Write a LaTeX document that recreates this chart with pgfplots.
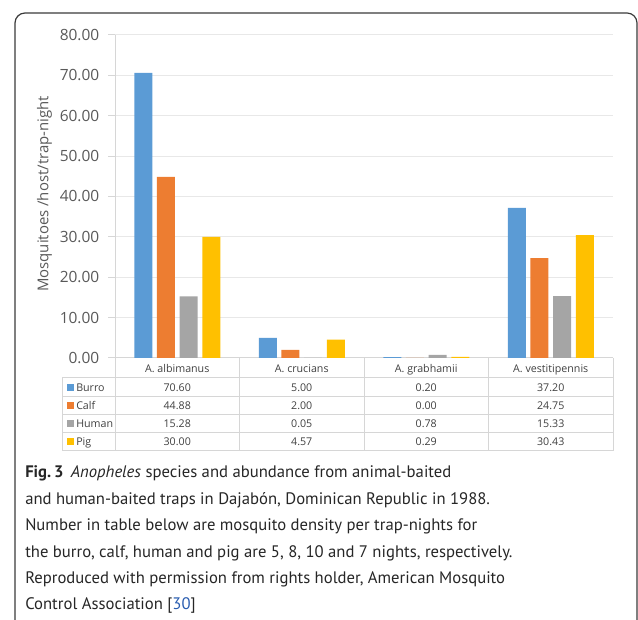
\documentclass[border=0pt]{standalone}
\usepackage{fontspec}
\setmainfont{Open Sans}
\newfontfamily\capfont{PT Sans}
\usepackage{pgfplots}
\pgfplotsset{compat=1.18}
\definecolor{cBurro}{HTML}{5B9BD5}
\definecolor{cCalf}{HTML}{ED7D31}
\definecolor{cHuman}{HTML}{A5A5A5}
\definecolor{cPig}{HTML}{FFC000}
\definecolor{textgray}{HTML}{595959}
\definecolor{tabtext}{HTML}{404040}
\definecolor{gridgray}{HTML}{E8E8E8}
\definecolor{linegray}{HTML}{D6D6D6}
\definecolor{framecol}{HTML}{3A3A3A}
\definecolor{captext}{HTML}{262626}
\definecolor{linkblue}{HTML}{2A5DB0}
\begin{document}
\begin{tikzpicture}[x=0.75pt,y=0.75pt]
\path[use as bounding box] (0,0) rectangle (638,620);
% frame
\draw[framecol, line width=0.9pt] (15,0) -- (15,597) arc[start angle=180,end angle=90,radius=7.5pt] -- (627,607) arc[start angle=90,end angle=0,radius=7.5pt] -- (637,0);
\begin{axis}[
  at={(86.25pt,196.5pt)}, anchor=south west,
  scale only axis, width=373.5pt, height=242.25pt,
  ybar=3.5pt, bar width=13.5pt,
  xmin=-0.5, xmax=3.5, enlarge x limits=false,
  ymin=0, ymax=80, ytick={0,10,...,80},
  xtick=\empty,
  axis lines*=left,
  axis line style={draw=linegray, line width=0.75pt, -},
  ymajorgrids, grid style={draw=gridgray, line width=0.75pt},
  tick align=outside, major tick length=5.25pt,
  ytick style={draw=linegray, line width=0.75pt},
  yticklabel style={font=\fontsize{11.6}{14}\selectfont, color=textgray, xshift=-3pt},
  /pgf/number format/.cd, fixed, fixed zerofill, precision=2, assume math mode=true,
]
\addplot[fill=cBurro, draw=none] coordinates {(0,70.60) (1,5.00) (2,0.20) (3,37.20)};
\addplot[fill=cCalf, draw=none] coordinates {(0,44.88) (1,2.00) (2,0.00) (3,24.75)};
\addplot[fill=cHuman, draw=none] coordinates {(0,15.28) (1,0.05) (2,0.78) (3,15.33)};
\addplot[fill=cPig, draw=none] coordinates {(0,30.00) (1,4.57) (2,0.29) (3,30.43)};
\end{axis}
% y label
\node[rotate=90, font=\fontsize{11.2}{14}\selectfont, color=textgray] at (44.5,426) {Mosquitoes /host/trap-night};
% table grid
\begin{scope}[linegray, line width=0.75pt]
\foreach \yy in {242,223,205,187,169} \draw (62,\yy) -- (613,\yy);
\draw (62,242) -- (62,169);
\foreach \xx in {115,239.5,364,488.5,613} \draw (\xx,262) -- (\xx,169);
\end{scope}
% table text
\begin{scope}[font=\fontsize{8}{10}\selectfont, color=tabtext]
\node[anchor=mid] at (177.25,251) {A. albimanus};
\node[anchor=mid] at (301.75,251) {A. crucians};
\node[anchor=mid] at (426.25,251) {A. grabhamii};
\node[anchor=mid] at (550.75,251) {A. vestitipennis};
% legend keys
\fill[cBurro] (67,228.5) rectangle (74,235.5);
\fill[cCalf] (67,210.5) rectangle (74,217.5);
\fill[cHuman] (67,192.5) rectangle (74,199.5);
\fill[cPig] (67,174.5) rectangle (74,181.5);
\node[anchor=mid west, inner sep=0] at (76,232) {Burro};
\node[anchor=mid west, inner sep=0] at (76,214) {Calf};
\node[anchor=mid west, inner sep=0] at (76,196) {Human};
\node[anchor=mid west, inner sep=0] at (76,178) {Pig};
% values
\node[anchor=mid] at (177.25,232) {70.60};
\node[anchor=mid] at (301.75,232) {5.00};
\node[anchor=mid] at (426.25,232) {0.20};
\node[anchor=mid] at (550.75,232) {37.20};
\node[anchor=mid] at (177.25,214) {44.88};
\node[anchor=mid] at (301.75,214) {2.00};
\node[anchor=mid] at (426.25,214) {0.00};
\node[anchor=mid] at (550.75,214) {24.75};
\node[anchor=mid] at (177.25,196) {15.28};
\node[anchor=mid] at (301.75,196) {0.05};
\node[anchor=mid] at (426.25,196) {0.78};
\node[anchor=mid] at (550.75,196) {15.33};
\node[anchor=mid] at (177.25,178) {30.00};
\node[anchor=mid] at (301.75,178) {4.57};
\node[anchor=mid] at (426.25,178) {0.29};
\node[anchor=mid] at (550.75,178) {30.43};
\end{scope}
% caption
\begin{scope}[font=\capfont\fontsize{12.5}{15}\selectfont, color=captext]
\node[anchor=base west, inner sep=0] at (25,142) {\textbf{Fig.\,3}\hspace{0.45em}\textit{Anopheles} species and abundance from animal-baited};
\node[anchor=base west, inner sep=0] at (25,115.6) {and human-baited traps in Dajabón, Dominican Republic in 1988.};
\node[anchor=base west, inner sep=0] at (25,89.2) {Number in table below are mosquito density per trap-nights for};
\node[anchor=base west, inner sep=0] at (25,62.8) {the burro, calf, human and pig are 5, 8, 10 and 7 nights, respectively.};
\node[anchor=base west, inner sep=0] at (25,36.4) {Reproduced with permission from rights holder, American Mosquito};
\node[anchor=base west, inner sep=0] at (25,10) {Control Association [\textcolor{linkblue}{30}]};
\end{scope}
\end{tikzpicture}
\end{document}
